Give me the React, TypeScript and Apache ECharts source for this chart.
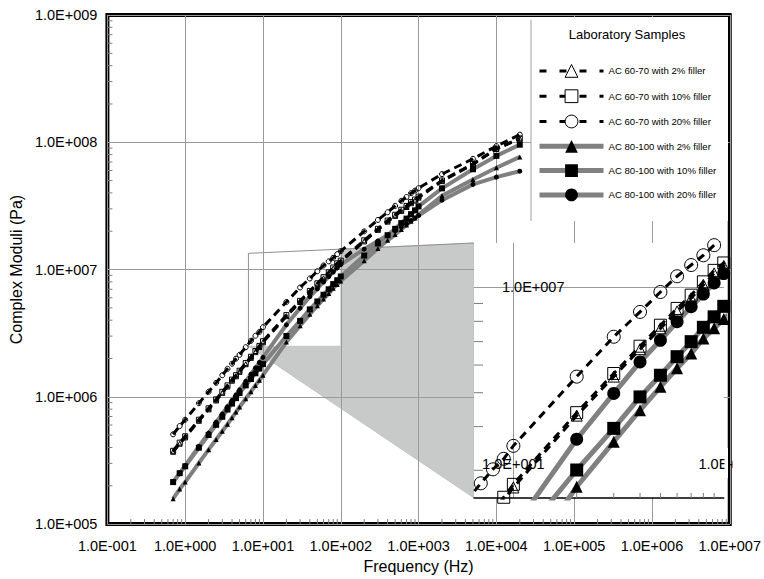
import React, { useEffect, useRef } from "react";
import * as echarts from "echarts";

// ---------- data ----------
const FREQ = [0.7, 0.85, 1, 1.5, 2, 2.5, 3, 3.5, 4, 4.5, 5, 6, 7, 8, 9, 10, 20, 30, 40, 50, 60, 70, 80, 90, 100, 200, 300, 400, 500, 600, 700, 800, 900, 1000, 2000, 5000, 10000, 20000];

const AC6070_2 = [370000, 428000, 480000, 648000, 797000, 936000, 1074000, 1205000, 1338000, 1450000, 1571000, 1804000, 2024000, 2245000, 2462000, 2680000, 4300000, 5560000, 6660000, 7640000, 8540000, 9320000, 10170000, 10970000, 11520000, 16650000, 20500000, 23800000, 26400000, 28900000, 31000000, 33200000, 34800000, 36700000, 49500000, 67000000, 88500000, 106500000];
const AC6070_10 = [376700, 436500, 489800, 660700, 812800, 955000, 1096000, 1230000, 1365000, 1479000, 1603000, 1841000, 2065000, 2291000, 2512000, 2735000, 4385000, 5675000, 6792000, 7798000, 8710000, 9506000, 10375000, 11190000, 11750000, 16980000, 20890000, 24270000, 26920000, 29510000, 31620000, 33880000, 35480000, 37410000, 50120000, 67610000, 89130000, 107200000];
const AC6070_20 = [508000, 589000, 661000, 891000, 1096000, 1288000, 1479000, 1660000, 1820000, 1995000, 2138000, 2455000, 2754000, 3020000, 3236000, 3524000, 5559000, 7228000, 8511000, 9705000, 10765000, 11590000, 12360000, 13210000, 13960000, 19950000, 24550000, 28180000, 31620000, 34670000, 37150000, 39810000, 41690000, 43650000, 56230000, 74130000, 93330000, 114800000];
const AC80100_2 = [158500, 188400, 213800, 302000, 384600, 462400, 537000, 609500, 683900, 758600, 831800, 966100, 1096000, 1230000, 1349000, 1479000, 2692000, 3622000, 4457000, 5200000, 5875000, 6471000, 7145000, 7638000, 8128000, 11750000, 14620000, 16980000, 18840000, 20650000, 22390000, 23990000, 25410000, 26920000, 38020000, 51050000, 63100000, 76740000];
const AC80100_10 = [213800, 251200, 284400, 398100, 501200, 602600, 696600, 794300, 885100, 977200, 1072000, 1230000, 1380000, 1531000, 1667000, 1807000, 3006000, 3954000, 4864000, 5610000, 6339000, 6998000, 7691000, 8241000, 8831000, 12880000, 16030000, 18620000, 20890000, 23170000, 25120000, 27230000, 29170000, 31330000, 43450000, 61380000, 78160000, 95720000];
const AC80100_20 = [215000, 251200, 288400, 407400, 518800, 631000, 732800, 835600, 937600, 1035000, 1135000, 1324000, 1507000, 1687000, 1862000, 2042000, 3681000, 4977000, 6124000, 7063000, 7980000, 8810000, 9572000, 10304000, 10960000, 14450000, 16790000, 18620000, 20180000, 21630000, 22910000, 24270000, 25410000, 26610000, 35080000, 46670000, 53210000, 59290000];

const SERIES_NAMES = [
  "AC 60-70 with 2% filler",
  "AC 60-70 with 10% filler",
  "AC 60-70 with 20% filler",
  "AC 80-100 with 2% filler",
  "AC 80-100 with 10% filler",
  "AC 80-100 with 20% filler",
];
const SERIES_VALUES = [AC6070_2, AC6070_10, AC6070_20, AC80100_2, AC80100_10, AC80100_20];
const SERIES_SYMBOLS = ["triangle", "rect", "circle", "triangle", "rect", "circle"];

// axis ranges
const MAIN_X_RANGE = [0.1, 1e7];
const MAIN_Y_RANGE = [1e5, 1e9];
const ZOOM_X_RANGE = [6.5, 100];
const ZOOM_Y_RANGE = [2.5e6, 1.34e7];

// minor tick values
const MINOR_MULT = [2, 3, 4, 5, 6, 7, 8, 9];
const MAIN_X_DECADES = [0.1, 1, 10, 100, 1000, 1e4, 1e5, 1e6];
const MAIN_Y_DECADES = [1e5, 1e6, 1e7, 1e8];
const ZOOM_X_MINOR = [20, 30, 40, 50, 60, 70, 80, 90];
const ZOOM_Y_MINOR = [3e6, 4e6, 5e6, 6e6, 7e6, 8e6, 9e6];

const LEGEND_TITLE = "Laboratory Samples";

const FONT = "'Liberation Sans', Arial, Helvetica, sans-serif";

const sci = (v: number) => {
  const e = Math.round(Math.log10(v));
  return "1.0E" + (e < 0 ? "-" : "+") + String(Math.abs(e)).padStart(3, "0");
};
const decadeOnly = (v: number) => {
  const l = Math.log10(v);
  return Math.abs(l - Math.round(l)) < 1e-6 ? sci(v) : "";
};
const zoomXLabel = (v: number) => {
  const s = decadeOnly(v);
  if (!s) return "";
  return Math.abs(v - ZOOM_X_RANGE[1]) < 1e-6 ? "{r|" + s + "}" : s;
};

export default function App() {
  const ref = useRef<HTMLDivElement>(null);
  useEffect(() => {
    document.body.style.margin = "0";
    if (!ref.current) return;
    const chart = echarts.init(ref.current, null, { renderer: "svg" });

    const MAIN = { left: 107, top: 15, width: 623, height: 514 };
    const ZOOM = { left: 474, top: 243, width: 250, height: 255 };

    const openSeries = (i: number) => i < 3;
    const mainSizes = [5, 5, 5, 5, 6, 5];
    const zoomSizes = [11, 12, 13, 12, 13, 13];

    const lineSeries: any[] = [];
    SERIES_NAMES.forEach((name, i) => {
      const data = FREQ.map((f, k) => [f, SERIES_VALUES[i][k]]);
      const open = openSeries(i);
      const itemStyle = open
        ? { color: "rgba(255,255,255,0)", borderColor: "#000", borderWidth: 1 }
        : { color: "#000", borderWidth: 0 };
      const mainLine = open
        ? { color: "#000", width: 3, type: [8, 5] }
        : { color: "#808080", width: 4, type: "solid" };
      const zoomLine = open
        ? { color: "#000", width: 3, type: [8, 6] }
        : { color: "#808080", width: 5, type: "solid" };
      lineSeries.push({
        type: "line",
        name,
        xAxisIndex: 0,
        yAxisIndex: 0,
        data,
        symbol: SERIES_SYMBOLS[i],
        symbolSize: mainSizes[i],
        showAllSymbol: true,
        itemStyle,
        lineStyle: mainLine,
        z: 2,
        silent: true,
      });
      lineSeries.push({
        type: "line",
        name,
        xAxisIndex: 1,
        yAxisIndex: 1,
        data,
        symbol: SERIES_SYMBOLS[i],
        symbolSize: zoomSizes[i],
        showAllSymbol: true,
        clip: true,
        itemStyle,
        lineStyle: zoomLine,
        z: 3,
        silent: true,
      });
    });

    const tickSeries = (
      xIdx: number,
      pts: number[][],
      dx: number,
      dy: number,
      z: number
    ) => ({
      type: "custom",
      xAxisIndex: xIdx,
      yAxisIndex: xIdx,
      data: pts,
      silent: true,
      z,
      renderItem: (params: any, api: any) => {
        const p = api.coord([api.value(0), api.value(1)]);
        return {
          type: "line",
          shape: { x1: p[0], y1: p[1], x2: p[0] + dx, y2: p[1] + dy },
          style: { stroke: "#7a7a7a", lineWidth: 1 },
        };
      },
    });

    const mainYMinor: number[][] = [];
    MAIN_Y_DECADES.forEach((d) => MINOR_MULT.forEach((m) => mainYMinor.push([MAIN_X_RANGE[0], d * m])));
    const mainXMinor: number[][] = [];
    MAIN_X_DECADES.forEach((d) => MINOR_MULT.forEach((m) => mainXMinor.push([d * m, MAIN_Y_RANGE[0]])));

    const axisLabelStyle = { fontSize: 14.5, color: "#000", fontFamily: FONT };
    const gridLine = { show: true, lineStyle: { color: "#9a9a9a", width: 1 } };

    const option: any = {
      animation: false,
      textStyle: { fontFamily: FONT },
      grid: [
        { ...MAIN, show: true, backgroundColor: "transparent", borderColor: "#000", borderWidth: 4, z: 0 },
        { ...ZOOM, show: true, backgroundColor: "#fff", borderWidth: 0, z: 1 },
      ],
      xAxis: [
        {
          type: "log",
          logBase: 10,
          gridIndex: 0,
          min: MAIN_X_RANGE[0],
          max: MAIN_X_RANGE[1],
          splitNumber: 8,
          axisLine: { show: false, onZero: false },
          axisTick: { show: false },
          axisLabel: { ...axisLabelStyle, margin: 14, formatter: decadeOnly },
          splitLine: gridLine,
          name: "Frequency (Hz)",
          nameLocation: "middle",
          nameGap: 28,
          nameTextStyle: { fontSize: 16, color: "#000", fontFamily: FONT },
          z: 0,
        },
        {
          type: "log",
          logBase: 10,
          gridIndex: 1,
          min: ZOOM_X_RANGE[0],
          max: ZOOM_X_RANGE[1],
          axisLine: { show: true, onZero: false, lineStyle: { color: "#000", width: 1.5 } },
          axisTick: { show: false },
          axisLabel: {
            ...axisLabelStyle,
            inside: true,
            margin: 27,
            formatter: zoomXLabel,
            showMinLabel: false,
            rich: { r: { ...axisLabelStyle, padding: [0, 0, 0, 12] } },
          },
          splitLine: { ...gridLine, showMinLine: false, showMaxLine: false },
          z: 1,
        },
      ],
      yAxis: [
        {
          type: "log",
          logBase: 10,
          gridIndex: 0,
          min: MAIN_Y_RANGE[0],
          max: MAIN_Y_RANGE[1],
          splitNumber: 4,
          axisLine: { show: false, onZero: false },
          axisTick: { show: false },
          axisLabel: { ...axisLabelStyle, margin: 10, formatter: decadeOnly },
          splitLine: gridLine,
          name: "Complex Moduli (Pa)",
          nameLocation: "middle",
          nameGap: 80,
          nameTextStyle: { fontSize: 16, color: "#000", fontFamily: FONT },
          z: 0,
        },
        {
          type: "log",
          logBase: 10,
          gridIndex: 1,
          min: ZOOM_Y_RANGE[0],
          max: ZOOM_Y_RANGE[1],
          axisLine: { show: false, onZero: false },
          axisTick: { show: false },
          axisLabel: { ...axisLabelStyle, inside: true, margin: 28, formatter: decadeOnly },
          splitLine: { ...gridLine, showMinLine: false, showMaxLine: false },
          z: 1,
        },
      ],
      legend: {
        orient: "vertical",
        left: 537,
        top: 64,
        itemWidth: 64,
        itemHeight: 16,
        itemGap: 11.5,
        padding: 0,
        selectedMode: false,
        z: 5,
        textStyle: { fontSize: 9.6, color: "#000", fontFamily: FONT },
        data: SERIES_NAMES.map((name, i) =>
          openSeries(i)
            ? {
                name,
                itemStyle: { color: "#fff", borderColor: "#000", borderWidth: 1 },
                lineStyle: { color: "#000", width: 3, type: [7, 13] },
              }
            : {
                name,
                itemStyle: { color: "#000", borderWidth: 0 },
                lineStyle: { color: "#808080", width: 5, type: "solid" },
              }
        ),
      },
      series: [
        ...lineSeries,
        tickSeries(0, mainYMinor, 5, 0, 2),
        tickSeries(0, mainXMinor, 0, -5, 2),
        tickSeries(1, ZOOM_Y_MINOR.map((v) => [ZOOM_X_RANGE[0], v]), 9, 0, 3),
        tickSeries(1, ZOOM_X_MINOR.map((v) => [v, ZOOM_Y_RANGE[0]]), 0, -5, 3),
      ],
    };
    chart.setOption(option);

    // magnifier shape: source rectangle in the main plot -> inset box
    const tl = chart.convertToPixel({ gridIndex: 0 }, [ZOOM_X_RANGE[0], ZOOM_Y_RANGE[1]]) as number[];
    const br = chart.convertToPixel({ gridIndex: 0 }, [ZOOM_X_RANGE[1], ZOOM_Y_RANGE[0]]) as number[];
    const zl = ZOOM.left;
    const zt = ZOOM.top;
    const zb = ZOOM.top + ZOOM.height;
    const zr = ZOOM.left + ZOOM.width;
    const topAt = (x: number) => tl[1] + ((x - tl[0]) * (zt - tl[1])) / (zl - tl[0]);

    chart.setOption({
      graphic: [
        {
          type: "polygon",
          silent: true,
          z: -1,
          shape: {
            points: [
              [tl[0], br[1]],
              [br[0], br[1]],
              [br[0], topAt(br[0])],
              [zl, zt],
              [zl, zb],
            ],
          },
          style: { fill: "#c8caca", stroke: "#b4b6b6", lineWidth: 0.6 },
        },
        {
          type: "polyline",
          silent: true,
          z: -1,
          shape: { points: [[tl[0], br[1]], [tl[0], tl[1]], [zl, zt]] },
          style: { stroke: "#909090", lineWidth: 1, fill: null },
        },
        {
          type: "rect",
          silent: true,
          z: 1,
          shape: { x: 531, y: 17, width: 197, height: 204 },
          style: { fill: "#fff" },
        },
        {
          type: "line",
          silent: true,
          z: 1,
          shape: { x1: 531, y1: 20, x2: 531, y2: 221 },
          style: { stroke: "#a0a0a0", lineWidth: 1 },
        },
        {
          type: "text",
          silent: true,
          z: 5,
          x: 627,
          y: 34,
          style: {
            text: LEGEND_TITLE,
            fontSize: 13,
            fontFamily: FONT,
            fill: "#000",
            align: "center",
            verticalAlign: "middle",
            textAlign: "center",
            textVerticalAlign: "middle",
          },
        },
        {
          type: "rect",
          silent: true,
          z: 5,
          shape: { x: zr + 0.5, y: zb - 50, width: 3.5, height: 30 },
          style: { fill: "#fff" },
        },
        {
          type: "rect",
          silent: true,
          z: 5,
          shape: { x: 732.5, y: zb - 50, width: 40, height: 30 },
          style: { fill: "#fff" },
        },
      ],
    });

    return () => chart.dispose();
  }, []);
  return <div ref={ref} style={{ width: 764, height: 579 }} />;
}
